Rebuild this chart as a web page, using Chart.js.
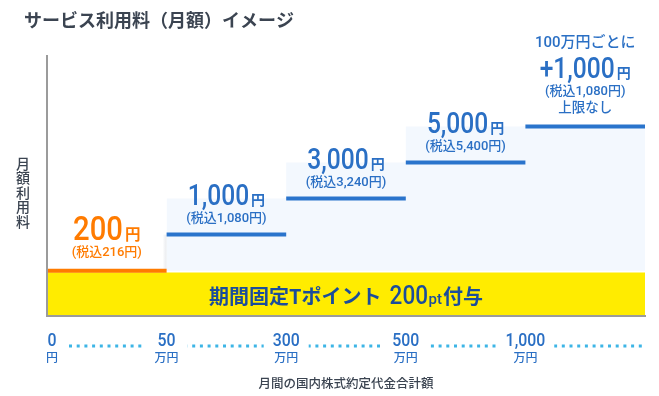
<!DOCTYPE html>
<html lang="ja">
<head>
  <meta charset="UTF-8" />
  <title>サービス利用料（月額）イメージ</title>
  <script src="https://cdn.jsdelivr.net/npm/chart.js"></script>
  <style>
    body {
      margin: 0;
      padding: 0;
      background: #fff;
    }
    #wrap {
      width: 659px;
      height: 396px;
      position: relative;
    }
  </style>
</head>
<body>
  <div id="wrap">
    <canvas id="feeChart"></canvas>
  </div>

  <script>
    // 段階（高さは等間隔のイメージ）
    const tierLevels = [1, 2, 3, 4, 5];
    const bandLevel = 0.95;

    // 横軸の目盛り
    const tickLabels = ['0', '50', '300', '500', '1,000'];
    const tickUnits = ['円', '万円', '万円', '万円', '万円'];

    // 各段の料金表示
    const feeMain = ['200', '1,000', '3,000', '5,000', '+1,000'];
    const feeTax = ['(税込216円)', '(税込1,080円)', '(税込3,240円)', '(税込5,400円)', '(税込1,080円)'];
    const feeHeader = ['', '', '', '', '100万円ごとに'];
    const feeFooter = ['', '', '', '', '上限なし'];

    const JP = '"Noto Sans CJK JP", "Noto Sans", sans-serif';
    const NUM = 'Roboto, "Noto Sans CJK JP", sans-serif';
    const ORANGE = '#ff7b00';
    const BLUE = '#2a74cc';
    const BLUE_TEXT = '#2a6fc4';
    const DARK = '#3b4451';

    // 各段の横線（1段ずつ別データセット）
    const stepSets = tierLevels.map((lv, i) => ({
      data: [{ x: i, y: lv }, { x: i + 1, y: lv }],
      borderColor: i === 0 ? ORANGE : BLUE,
      borderWidth: 4,
      fill: false,
      order: 0
    }));

    // 段の下の薄い塗り
    const fillPoints = tierLevels.slice(1).map((lv, i) => ({ x: i + 1, y: lv }));
    fillPoints.push({ x: tierLevels.length, y: tierLevels[tierLevels.length - 1] });

    function drawScaled(ctx, text, x, y, font, color, sx) {
      ctx.save();
      ctx.font = font;
      ctx.fillStyle = color;
      ctx.translate(x, y);
      ctx.scale(sx, 1);
      ctx.fillText(text, 0, 0);
      ctx.restore();
    }

    function measure(ctx, text, font) {
      ctx.save();
      ctx.font = font;
      const w = ctx.measureText(text).width;
      ctx.restore();
      return w;
    }

    // 段の左側の影
    const shadowPlugin = {
      id: 'stepShadow',
      beforeDatasetsDraw(chart) {
        const ctx = chart.ctx;
        const xs = chart.scales.x, ys = chart.scales.y;
        for (let i = 1; i < tierLevels.length; i++) {
          const px = xs.getPixelForValue(i);
          const top = ys.getPixelForValue(tierLevels[i]);
          const bottom = ys.getPixelForValue(tierLevels[i - 1]);
          const g = ctx.createLinearGradient(px - 4, 0, px, 0);
          g.addColorStop(0, 'rgba(60,80,110,0)');
          g.addColorStop(1, 'rgba(60,80,110,0.12)');
          ctx.fillStyle = g;
          ctx.fillRect(px - 4, top, 4, bottom - top);
        }
      }
    };

    // 文字類
    const labelPlugin = {
      id: 'labels',
      afterDatasetsDraw(chart) {
        const ctx = chart.ctx;
        const xs = chart.scales.x, ys = chart.scales.y;
        const area = chart.chartArea;
        ctx.save();
        ctx.textBaseline = 'alphabetic';
        ctx.textAlign = 'left';

        // 料金
        tierLevels.forEach((lv, i) => {
          const cx = xs.getPixelForValue(i + 0.5);
          const ly = ys.getPixelForValue(lv);
          const first = i === 0;
          const color = first ? ORANGE : BLUE_TEXT;
          const mainFont = `500 ${first ? 34 : 30}px ${NUM}`;
          const unitFont = `bold ${first ? 15.5 : 14}px ${JP}`;
          const sx = first ? 0.86 : 0.82;
          const shift = feeFooter[i] ? 19 : 0;

          const base = ly - (first ? 31 : 29.5) - shift;
          const w1 = measure(ctx, feeMain[i], mainFont) * sx;
          const w2 = measure(ctx, '円', unitFont);
          const start = cx - (w1 + 2 + w2) / 2;
          drawScaled(ctx, feeMain[i], start, base, mainFont, color, sx);
          drawScaled(ctx, '円', start + w1 + 2, base, unitFont, color, 1);

          ctx.textAlign = 'center';
          ctx.textBaseline = 'middle';
          ctx.fillStyle = color;
          ctx.font = `500 13px ${NUM}`;
          ctx.fillText(feeTax[i], cx, ly - (first ? 17.5 : 16) - shift);
          if (feeFooter[i]) {
            ctx.font = `500 13.5px ${JP}`;
            ctx.fillText(feeFooter[i], cx, ly - 19.5);
          }
          if (feeHeader[i]) {
            ctx.font = `500 15px ${NUM}`;
            ctx.fillText(feeHeader[i], cx, base - 34.5);
          }
          ctx.textAlign = 'left';
          ctx.textBaseline = 'alphabetic';
        });

        // ポイント帯
        const bandTop = ys.getPixelForValue(bandLevel);
        const bandBase = (bandTop + area.bottom) / 2 + 10;
        const parts = [
          { t: '期間固定Tポイント', f: `bold 20px ${JP}`, sx: 1, gap: 8 },
          { t: '200', f: `500 25px ${NUM}`, sx: 0.9, gap: 0.5 },
          { t: 'pt', f: `500 15px ${NUM}`, sx: 1, gap: 1 },
          { t: '付与', f: `bold 20px ${JP}`, sx: 1, gap: 0 }
        ];
        let total = 0;
        parts.forEach(p => { p.w = measure(ctx, p.t, p.f) * p.sx; total += p.w + p.gap; });
        let px = (area.left + area.right) / 2 - total / 2;
        parts.forEach(p => {
          drawScaled(ctx, p.t, px, bandBase, p.f, '#1b4d9b', p.sx);
          px += p.w + p.gap;
        });
        ctx.restore();
      },
      afterDraw(chart) {
        const ctx = chart.ctx;
        const xs = chart.scales.x;
        const area = chart.chartArea;
        ctx.save();

        // 点線
        const dotY = area.bottom + 30;
        ctx.strokeStyle = '#3db5e6';
        ctx.lineWidth = 3;
        ctx.setLineDash([3, 4.7]);
        ctx.beginPath();
        ctx.moveTo(area.left + 22, dotY);
        ctx.lineTo(area.right, dotY);
        ctx.stroke();
        ctx.setLineDash([]);

        // 目盛りラベル
        const numFont = `500 18px ${NUM}`;
        const unitFont = `500 12px ${JP}`;
        const nsx = 0.88;
        tickLabels.forEach((lab, i) => {
          const w = measure(ctx, lab, numFont) * nsx;
          const uw = measure(ctx, tickUnits[i], unitFont);
          const p = xs.getPixelForValue(i);
          const cx = i === 0 ? p - 1 + Math.max(w, uw) / 2 : p;
          const bw = Math.max(w, uw) + 18;
          ctx.fillStyle = '#fff';
          ctx.fillRect(cx - bw / 2, dotY - 6, bw, 12);
          drawScaled(ctx, lab, cx - w / 2, dotY, numFont, BLUE_TEXT, nsx);
          ctx.fillStyle = BLUE_TEXT;
          ctx.font = unitFont;
          ctx.textAlign = 'center';
          ctx.textBaseline = 'middle';
          ctx.fillText(tickUnits[i], cx, dotY + 11);
          ctx.textAlign = 'left';
          ctx.textBaseline = 'alphabetic';
        });

        // 軸タイトル
        ctx.fillStyle = DARK;
        ctx.textAlign = 'center';
        ctx.textBaseline = 'middle';
        ctx.font = `500 12.5px ${JP}`;
        ctx.fillText('月間の国内株式約定代金合計額', (area.left + area.right) / 2, area.bottom + 67);

        ctx.font = `500 14px ${JP}`;
        const yTitle = '月額利用料';
        [...yTitle].forEach((ch, k) => {
          ctx.fillText(ch, area.left - 24, 163.5 + k * 14.5);
        });

        // タイトル
        ctx.textAlign = 'left';
        ctx.font = `bold 18px ${JP}`;
        ctx.fillText('サービス利用料（月額）イメージ', 24, 20);
        ctx.restore();
      }
    };

    const ctx = document.getElementById('feeChart').getContext('2d');
    new Chart(ctx, {
      type: 'line',
      data: {
        datasets: [
          ...stepSets,
          {
            data: [{ x: 0, y: bandLevel }, { x: tierLevels.length, y: bandLevel }],
            borderWidth: 0,
            backgroundColor: '#ffec00',
            fill: 'start',
            order: 1
          },
          {
            data: fillPoints,
            stepped: 'after',
            borderWidth: 0,
            backgroundColor: '#f3f8fe',
            fill: { value: tierLevels[0] },
            order: 2
          }
        ]
      },
      options: {
        responsive: true,
        maintainAspectRatio: false,
        animation: false,
        layout: {
          padding: { top: 56, right: 14, left: 25, bottom: 0 }
        },
        elements: {
          point: { radius: 0 },
          line: { tension: 0, borderCapStyle: 'butt' }
        },
        plugins: {
          legend: { display: false },
          tooltip: { enabled: false }
        },
        scales: {
          x: {
            type: 'linear',
            min: 0,
            max: tierLevels.length,
            grid: { display: false },
            ticks: { display: false },
            border: { display: true, color: '#9b9b9b', width: 2, z: 1 },
            afterFit: s => { s.height = 80; }
          },
          y: {
            type: 'linear',
            min: -0.26,
            max: 6.96,
            grid: { display: false },
            ticks: { display: false },
            border: { display: true, color: '#9b9b9b', width: 2, z: 1 },
            afterFit: s => { s.width = 22; }
          }
        }
      },
      plugins: [shadowPlugin, labelPlugin]
    });
  </script>
</body>
</html>
